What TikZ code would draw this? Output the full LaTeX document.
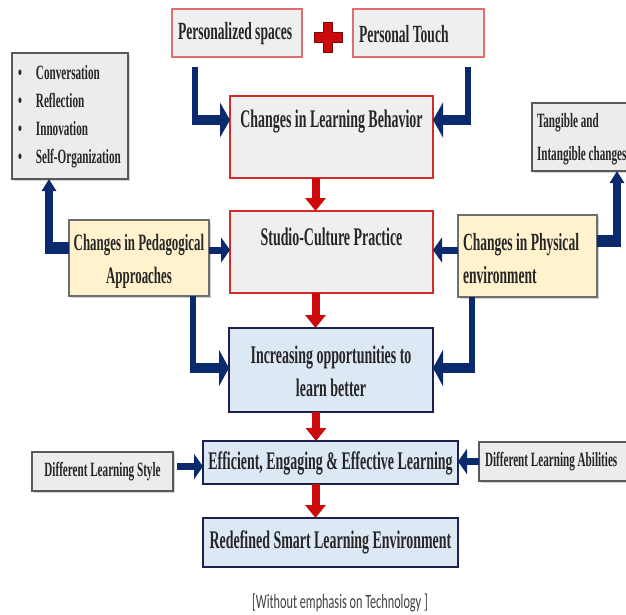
\documentclass[tikz,border=0pt]{standalone}
\usepackage{fontspec}
\setmainfont{Liberation Serif}
\newfontfamily\narrowserif{Liberation Serif}[FakeStretch=0.55]
\newfontfamily\narrowsans{Carlito}[FakeStretch=0.6]
\usetikzlibrary{arrows.meta,calc,shadows,fit}

\definecolor{navy}{HTML}{0B2A6E}
\definecolor{arrowred}{HTML}{CC0A0A}
\definecolor{boxred}{HTML}{D42A2A}
\definecolor{softred}{HTML}{E07070}
\definecolor{greyfill}{HTML}{EFEFEF}
\definecolor{bluefill}{HTML}{DDE8F5}
\definecolor{blueedge}{HTML}{1C2150}
\definecolor{yellowfill}{HTML}{FFF2CC}
\definecolor{greyedge}{HTML}{6E6E6E}
\definecolor{notefill}{HTML}{ECECEC}
\definecolor{noteedge}{HTML}{595959}

\begin{document}
\begin{tikzpicture}[x=0.75pt,y=-0.75pt,
  every node/.style={inner sep=0pt,outer sep=0pt},
  bigtext/.style={font=\narrowserif\bfseries\fontsize{19}{24.7}\selectfont,align=center,text=black!85},
  midtext/.style={font=\narrowserif\bfseries\fontsize{18.5}{24.7}\selectfont,text=black!85},
  smalltext/.style={font=\narrowserif\bfseries\fontsize{15.2}{24.7}\selectfont,align=left,text=black!85},
  softshadow/.style={drop shadow={shadow xshift=1pt,shadow yshift=-1pt,opacity=0.18}},
  darkshadow/.style={drop shadow={shadow xshift=1.5pt,shadow yshift=-1.5pt,opacity=0.35}},
  softbox/.style={rectangle,fill=greyfill,draw=softred,line width=0.9pt},
  redbox/.style={rectangle,fill=greyfill,draw=boxred,line width=1.5pt,softshadow},
  bluebox/.style={rectangle,fill=bluefill,draw=blueedge,line width=2pt,softshadow},
  yellowbox/.style={rectangle,fill=yellowfill,draw=greyedge,line width=1.1pt,darkshadow},
  notebox/.style={rectangle,fill=notefill,draw=noteedge,line width=1.1pt,darkshadow},
  navyv/.style={draw=navy,line width=4.5pt},
  navyh/.style={draw=navy,line width=7.5pt},
  navyvthick/.style={draw=navy,line width=6pt},
  navyhthick/.style={draw=navy,line width=9pt},
  navyshort/.style={draw=navy,line width=5.25pt,-{Triangle[length=6.75pt,width=18.75pt]}},
  headh/.style={-{Triangle[length=7.5pt,width=26pt]}},
  headv/.style={-{Triangle[length=9pt,width=10.5pt]}},
  redarrow/.style={draw=arrowred,line width=6pt,-{Triangle[length=9.75pt,width=15pt]}}
]
\useasboundingbox (0,0) rectangle (626,615);

% top inputs
\node[softbox,fit={(172,9) (302,57)}] (ps) {};
\node[midtext,anchor=west] (pstext) at ($(ps.west)+(6,1)$) {Personalized spaces};
\node[softbox,fit={(353,9) (484,57)}] (pt) {};
\node[midtext,anchor=west] (pttext) at ($(pt.west)+(6,1)$) {Personal Touch};
\filldraw[fill=arrowred,draw=arrowred!60!black,line width=0.6pt]
  (323.5,22) -- (332.5,22) -- (332.5,32) -- (342,32) -- (342,42) -- (332.5,42)
  -- (332.5,52) -- (323.5,52) -- (323.5,42) -- (314,42) -- (314,32) -- (323.5,32) -- cycle;

% central column
\node[redbox,fit={(230,96) (433,178)}] (clb) {};
\node[bigtext] (clbtext) at ($(clb.north)+(0,26)$) {Changes in Learning Behavior};
\node[redbox,fit={(230,211) (433,293)}] (scp) {};
\node[bigtext] (scptext) at ($(scp.north)+(0,26)$) {Studio-Culture Practice};
\node[bluebox,fit={(229,328) (433,412)}] (iol) {};
\node[bigtext] (ioltext) at ($(iol.center)+(0,1)$) {Increasing opportunities to\\learn better};
\node[bluebox,fit={(203,441) (458,484)}] (eel) {};
\node[bigtext] (eeltext) at ($(eel.center)+(0,1)$) {Efficient, Engaging \& Effective Learning};
\node[bluebox,fit={(203,518) (458,567)}] (rsl) {};
\node[bigtext] (rsltext) at (rsl.center) {Redefined Smart Learning Environment};

% side boxes
\node[notebox,fit={(12,53) (128,179)}] (lst) {};
\node[smalltext,anchor=west,font=\narrowserif\bfseries\fontsize{15.2}{21}\selectfont] (lsttext) at (18,117)
  {\makebox[13.5pt][l]{\textbullet}Conversation\\
   \makebox[13.5pt][l]{\textbullet}Reflection\\
   \makebox[13.5pt][l]{\textbullet}Innovation\\
   \makebox[13.5pt][l]{\textbullet}Self-Organization};
\node[notebox,fit={(532,103) (632,171)}] (tic) {};
\node[smalltext,anchor=west] (tictext) at ($(tic.west)+(5,2)$) {Tangible and\\Intangible changes};
\node[yellowbox,fit={(69,220) (209,296)}] (cpa) {};
\node[midtext,align=center,font=\narrowserif\bfseries\fontsize{17.6}{24.7}\selectfont] (cpatext) at ($(cpa.center)+(0,3)$) {Changes in Pedagogical\\Approaches};
\node[yellowbox,fit={(458,215) (597,297)}] (cpe) {};
\node[midtext,align=left,anchor=west] (cpetext) at ($(cpe.west)+(5,3)$) {Changes in Physical\\environment};
\node[notebox,fit={(32,452) (173,491)}] (dls) {};
\node[smalltext] (dlstext) at (dls.center) {Different Learning Style};
\node[notebox,fit={(479,442) (632,481)}] (dla) {};
\node[smalltext,anchor=west] (dlatext) at ($(dla.west)+(6,0)$) {Different Learning Abilities};

% caption
\node[font=\narrowsans\fontsize{15.3}{17}\selectfont,text=black!75] (cap) at (340,603) {[Without emphasis on Technology ]};

% navy elbow connectors into the first box
\coordinate (a1) at ($(ps.south)+(-42,10)$);
\coordinate (a2) at ($(clb.west)+(0,-17)$);
\draw[navyv] (a1) -- ($(a1|-a2)+(0,4.7)$);
\draw[navyh,headh] ($(a1|-a2)+(-3,0)$) -- (a2);
\coordinate (b1) at ($(pt.south)+(49.5,10)$);
\coordinate (b2) at ($(clb.east)+(0,-17)$);
\draw[navyv] (b1) -- ($(b1|-b2)+(0,4.7)$);
\draw[navyh,headh] ($(b1|-b2)+(3,0)$) -- (b2);

% side inputs into the studio box
\coordinate (c1) at ($(cpa.east)+(0,-8)$);
\draw[navyshort] (c1) -- (c1 -| scp.west);
\coordinate (d1) at ($(cpe.west)+(0,-6)$);
\draw[navyshort] (d1) -- (d1 -| scp.east);

% side boxes up to their notes
\coordinate (e1) at ($(cpa.west)+(0,-10)$);
\coordinate (e2) at ($(lst.south)+(-21,0)$);
\draw[navyhthick] (e1) -- ($(e2|-e1)+(-4,0)$);
\draw[navyvthick,headv] ($(e2|-e1)+(0,6)$) -- (e2);
\coordinate (f1) at ($(cpe.east)+(0,-15)$);
\coordinate (f2) at ($(tic.south)+(35,0)$);
\draw[navyhthick] (f1) -- ($(f2|-f1)+(4,0)$);
\draw[navyvthick,headv] ($(f2|-f1)+(0,6)$) -- (f2);

% side boxes down into the opportunities box
\coordinate (g1) at ($(cpa.south)+(54,0)$);
\coordinate (g2) at ($(iol.west)+(0,-2)$);
\draw[navyv] (g1) -- ($(g1|-g2)+(0,5)$);
\draw[navyh,-{Triangle[length=7.5pt,width=27pt]}] ($(g1|-g2)+(-3,0)$) -- (g2);
\coordinate (h1) at ($(cpe.south)+(-55.5,0)$);
\coordinate (h2) at ($(iol.east)+(0,-2)$);
\draw[navyv] (h1) -- ($(h1|-h2)+(0,5)$);
\draw[navyh,-{Triangle[length=7.5pt,width=27pt]}] ($(h1|-h2)+(3,0)$) -- (h2);

% learning style and abilities
\coordinate (i1) at ($(dls.east)+(4,-5)$);
\draw[navyshort] (i1) -- (i1 -| eel.west);
\coordinate (j1) at ($(dla.west)+(0,0)$);
\draw[navyshort] (j1) -- (j1 -| eel.east);

% red flow down the central column
\coordinate (r1) at ($(clb.south)+(-16,0)$);
\draw[redarrow] (r1) -- (r1 |- scp.north);
\coordinate (r2) at ($(scp.south)+(-16,0)$);
\draw[redarrow] (r2) -- (r2 |- iol.north);
\coordinate (r3) at ($(iol.south)+(-15,0)$);
\draw[redarrow] (r3) -- (r3 |- eel.north);
\coordinate (r4) at ($(eel.south)+(-15,0)$);
\draw[redarrow] (r4) -- (r4 |- rsl.north);
\end{tikzpicture}
\end{document}
